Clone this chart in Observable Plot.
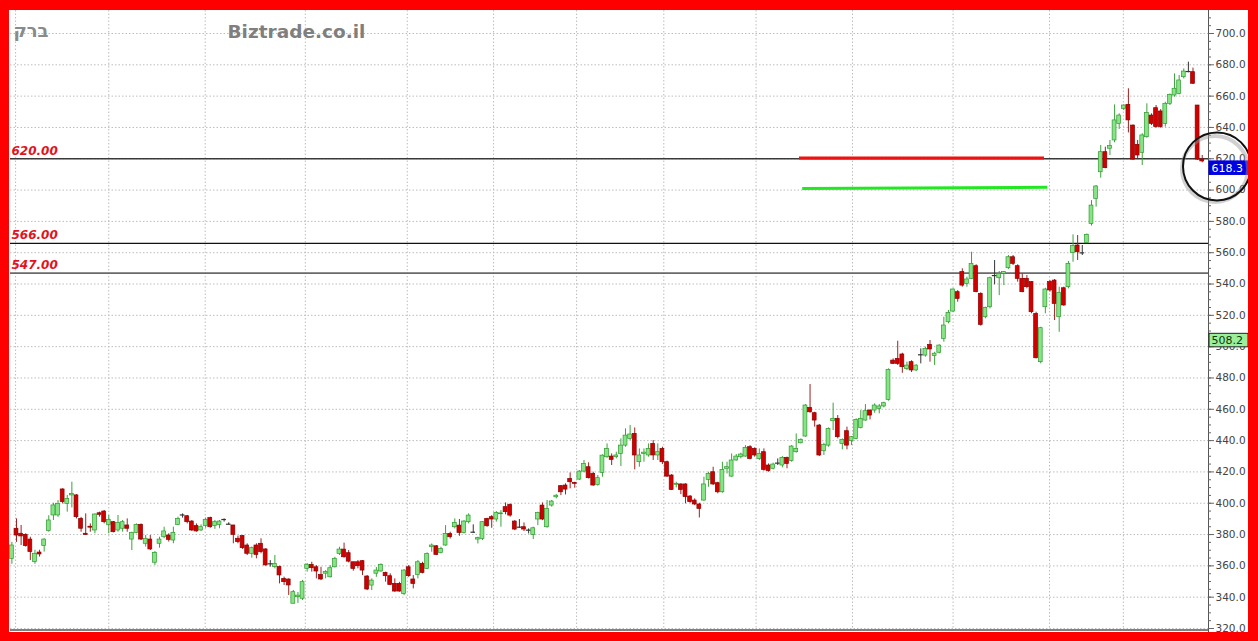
<!DOCTYPE html>
<html><head><meta charset="utf-8">
<script src="https://cdn.jsdelivr.net/npm/d3@7"></script>
<script src="https://cdn.jsdelivr.net/npm/@observablehq/plot@0.6"></script>
<style>
html,body{margin:0;padding:0;background:#ff0000;width:1258px;height:641px;overflow:hidden}
#wrap{position:absolute;left:9px;top:10px;width:1239px;height:622px;background:#fff;overflow:hidden}
</style></head>
<body><div id="wrap"></div>
<script>
// ---- data (daily candles) ----
const open  = [364.5,383.7,380.5,379.8,376.8,362.4,368.5,372.6,382.2,392.2,392.2,408.8,399.6,405,405,390,380.5,385,382.6,393.6,394.7,386.2,387.9,382.6,383.7,385.8,376.8,381.1,386.2,374.1,376.8,362,374.1,378.3,379.4,376.2,386.2,392.5,391.7,388.3,385.4,382.6,385.4,390.5,385.4,386.2,389.4,386.8,385.8,377.3,379,373,367.7,373,374.1,370.5,361.3,359.2,359.2,351.7,351.3,335.8,340,339,358.1,360.6,359.1,354.2,355,352.7,359.1,367.6,370.4,368.1,362.3,362.3,363,353.2,347.4,355,356.4,355.5,353.4,348.5,348.5,342.1,359.1,351.3,354.2,361.3,358.1,372,372.5,368.3,373,380.4,384.7,385.7,381,387.9,381.6,376.8,377.2,390,391.1,389.6,393,397.5,398.9,388.3,384.7,384.7,383,379.8,389.6,398.5,384.7,398.5,403.8,410.9,411.3,415.5,413,415.1,420.2,423,418.7,411.7,419.4,429.4,429.8,429.4,431.5,436.8,441.1,444.3,426.2,431.5,430.5,437.9,430.5,434.7,426.2,417.7,411.8,412,412,404.3,401.7,399.2,401.7,414.9,419.8,412.8,407,422,417,427.3,429.4,429.8,435.8,434.7,428.3,432.6,424.1,422,425.6,424.1,429,426.9,432.6,438.3,442.6,460.9,457.5,449.6,433.2,436.8,452.4,453.9,437.9,446,439.6,441.1,448.1,452.8,459.2,459.2,460.3,461.8,466,491.1,492.2,495,485.8,490.1,484.8,494.8,494.3,501.1,494,496.1,505,515.6,522.4,534.8,547.6,540.1,543.3,551.4,533.7,518.8,525.2,545.5,543.7,546.5,550.1,557.1,551.4,543.3,543.3,541.2,520.9,490.1,525.2,541.2,542.2,518.8,537.3,538,559.9,564.6,559.9,566.3,578.4,594.4,611.4,624.2,626.4,631.7,642.3,651.9,654.4,641.2,628.9,623.8,633.8,647.6,652.3,650.2,642.3,655.1,660.4,661.4,672.1,675.7,675.3,654,619.5];
const high  = [375,390,385.8,380.5,378.3,370,370,377.3,392,400,401.7,409.2,405,413.4,405.5,391,393.2,386.8,393.2,394.3,395.4,392.2,388.3,392.2,389,390,381.5,386.8,386.8,379.4,379.4,369.2,378.3,384.7,380.5,384.7,391.1,393.2,392.2,389,386.8,386.2,390.5,391.1,389,389,390,387.5,385.8,379,379.4,374.1,372,374.1,377.3,370.9,363.4,366.6,359.8,352.8,351.7,344.3,343,350.7,361.5,362.3,360.2,359.1,357,360.2,365.5,371.9,374.5,369.8,362.3,363.4,363.4,353.8,351.7,359,361.3,356,354.9,351.7,349.5,357.6,360.2,353.8,363.4,362.3,368.3,374,373,371.9,385.7,381.5,390,389.6,388.9,393.2,386.2,378.3,388.3,390.4,392.1,394.7,395.3,400.2,399.6,388.9,389.6,387.4,383.6,384.7,394.3,400.2,401.7,401.7,405.5,411.3,412.4,419.4,413.4,420.9,427.3,425.8,419.8,417.7,430.9,437.9,431.5,432.6,441.1,447.5,449.6,448.1,434.7,434.7,437.9,440,437.9,435.8,426.9,418.3,413.4,412.4,412.4,404.9,402.8,400,416.6,419.8,423,413.4,426.2,426.2,431.5,431.1,432,436.8,436.8,435.4,434.7,434.7,425.1,425.6,428.3,429.8,429.4,436.8,444.3,441.1,463,475.8,458.1,450.3,438.3,448.1,463.9,456,441.1,448.6,442.6,453.9,459.2,463,459.6,463.5,463.1,464.5,485.8,492.2,503.5,495.8,490.1,491,488.5,498.6,499.7,503.9,496.4,501.1,518.8,523.1,536.9,535.8,549.7,544.4,560.3,552.3,534.4,525.2,544.4,555,548,548,558.2,558.2,552.3,546.5,545.4,541.6,522,512.4,537.3,542.2,542.9,538,538,554.4,571.4,571,564.6,572,593.3,602.9,628.5,627.4,631.7,654.4,648.7,654.4,664.7,641.6,631.7,636,655.1,648.7,654,651.4,656.1,661.4,674.2,673.2,677.4,681.7,677.9,654,622.1];
const low   = [361,375,373,372,363.4,361,365.6,368.8,381.5,389,391,399.6,394.3,397,390,381.5,379.4,381.5,380.5,391.1,386.8,380.5,381.1,381.5,381.5,381.5,369.8,380.5,376.2,372,369.8,360.3,371.3,377.3,375.2,374.1,385.8,390.5,386.8,382,381.5,382,384,384,383.3,383.7,388,386,374.1,374.1,370.5,366.6,364.9,364.5,367.7,359.8,359.2,358.1,348.5,347.5,341.1,335.8,336,337.9,356,356,351.7,350.6,351.7,352.3,358.7,366.6,364.9,361.9,356.6,358.1,353.8,344.2,344.2,352.7,356,349.6,347.4,343.2,343.2,341,352.7,345.3,351.7,354.9,357.6,368.7,366.6,367.6,372.5,377.2,383.6,378.9,380.4,386.8,381,374,376.2,384.7,384,387.9,384.7,392.6,391.1,382.5,384,381.9,380.4,376.8,385.7,388.9,384,397.5,402.8,404.9,405.3,409.2,409.6,414.5,419.4,415.5,410.9,410.9,416.6,428.7,424.1,428.3,423.4,435.8,440,421.3,423,426.2,429.4,427.3,427.3,424.7,416.6,408.1,409.8,405.5,399.6,400,398.5,390.6,401.3,410.2,411.3,406,406.4,418.7,416.6,426.9,428.3,429.4,427.7,429.4,427.3,420.5,419.8,421.3,424.1,422.6,422,426.2,432,437.9,442.2,457.5,448.6,429.8,430.5,435.8,446.4,441.1,434.1,434.1,436.8,440.5,447.5,452.4,453.2,457.5,457.1,460.9,465.2,488.6,488,483,484.8,483.5,484,489,493.3,490.1,488,495.4,502.9,514.6,522,528.4,538,538,542.9,534.4,513.1,517.8,524.1,539.5,532.6,539,549.3,551.8,541.2,534.4,536.9,521,492.2,489,521,534.8,516.7,509.2,525.8,536.9,553.9,555,558.2,565.7,577,589.1,607.6,613.6,622.1,630.2,638.7,650.8,636.5,618.9,620,615.7,633.1,641.2,639.5,639.5,640.2,654,659.3,660.8,671,674.9,667.4,618.9,617.4];
const close = [373,379.4,378.8,372.6,368.8,367.7,367.3,376.8,389,398.6,399.6,400.7,402.8,406,391.1,383.7,379.8,384.4,392.8,392.6,387.9,389.4,381.5,387.3,387.9,383.7,381.1,386.2,376.8,377.3,370.5,368.3,376.8,382,376.6,381.1,390,392.5,387.9,382.6,382,384.7,389.4,384.7,387.9,388.3,389.6,386.6,379.8,375.2,371.3,367.7,371.3,367,368.8,360.3,361.3,361.3,353.9,349.6,347.5,343.2,341,349.6,360.7,358.5,356.4,351.3,356,358.5,364.5,370.4,365.5,362.7,358.1,359.8,357,344.9,350.6,357,360.6,353.4,347.8,343.6,343.6,357,353.4,348.5,362.3,355.5,367.6,373,367,370.8,380.4,378.3,387.4,381,388.3,392.1,381.5,377.7,387.9,385.3,389.6,393.8,393.5,394.3,392.1,383.2,384.7,383.2,382.8,384,393.8,389.6,396.4,401.1,404.8,407,408.7,413.4,412.4,420.2,425.1,416,411.3,416,430.4,434.7,427.7,430.5,436.8,443.2,443.9,430.5,430.5,432.3,434.7,430.5,432.6,426.2,417,408.5,412.4,408.5,403.9,400.7,399.2,396.4,412,418.7,412,407,421.3,423,427.3,429.8,431.1,435.4,428.3,430.5,431.5,421.3,420.5,424.7,425.6,429,425.1,436.2,434.7,440.5,462.4,458.1,452.8,430.5,437.2,447.5,453.9,442.2,440.5,436.8,442.2,453.2,453.9,458.8,456,462.4,461.8,463.9,485.2,489,489,486.9,487.9,484.8,487.9,494.8,498.6,498.2,495.5,500.7,513.5,521.6,536.5,530.5,539,542.9,552.9,534.8,513.9,524.8,543.7,545.4,546.5,547.6,557.1,552.9,543.3,534.8,538,522,492.6,511.8,536.5,535.9,527.3,534.4,526.3,552.9,564.2,560.3,559.9,571.4,590.1,602.3,624.2,614,628.1,644.5,647.6,654,644.5,619.5,622.1,634.9,649.3,642.3,640.2,640.2,655.1,660.8,664.7,670,675.7,675.7,667.9,619.5,618.3];

// month boundaries, as candle positions
const monthBreaks = [0.8, 21, 41.9, 63.6, 85.7, 104.4, 122.4, 141.3, 161.3, 182.2, 204, 224.9, 240.9];
// support / resistance levels
const levels = [620, 566, 547];
// drawn trend segments: [startCandle, endCandle, startPrice, endPrice]
const redSegment   = [170.6, 223.7, 620.5, 620.5];
const greenSegment = [171.3, 224.4, 601.0, 601.8];
// price tags on the axis
const priceTags = [618.3, 508.2];
const yTicks = d3.range(320, 701, 20);
const yMinor = d3.range(320, 711, 5);
const titleText = "ברק";
const watermark = "Biztrade.co.il";

// ---- build ----
const N = close.length;
const candles = open.map((o, i) => ({i, open: o, high: high[i], low: low[i], close: close[i]}));
const dir = d => Math.abs(d.close - d.open) < 0.3 ? 0 : (d.close > d.open ? 1 : -1);
const W = 1239, H = 622;
const unitPerPx = 380 / 595;
const x0 = -0.3, x1 = N + 0.36;
const idxPerPx = (x1 - x0) / (W - 1 - 40);
const yLo = 320 - (H - 618) * unitPerPx, yHi = 700 + 23 * unitPerPx;
const grid = {stroke: "#bdbdbd", strokeDasharray: "1.5,2", strokeWidth: 1};

const bodyFill = d => dir(d) > 0 ? "#86e486" : "#d00000";
const bodyStroke = d => dir(d) > 0 ? "#2e9a2e" : "#8a0000";
const wickColor = d => dir(d) > 0 ? "#3aa33a" : dir(d) < 0 ? "#a02020" : "#333";

const chart = Plot.plot({
  width: W, height: H,
  marginLeft: 1, marginRight: 40, marginTop: 0, marginBottom: 0,
  x: {type: "linear", domain: [x0, x1], axis: null},
  y: {domain: [yLo, yHi], axis: null},
  style: {fontFamily: "DejaVu Sans", fontSize: "10.5px", background: "white", overflow: "hidden"},
  marks: [
    Plot.ruleY(yTicks, grid),
    Plot.ruleX(monthBreaks, grid),
    // level lines
    Plot.ruleY([levels[0]], {stroke: "#3a3a3a", strokeWidth: 1.3}),
    Plot.ruleY([levels[1]], {stroke: "#111", strokeWidth: 1.2}),
    Plot.ruleY([levels[2]], {stroke: "#6a6a6a", strokeWidth: 1.8}),
    Plot.text(levels, {x: x0, y: d => d, text: d => d.toFixed(2), textAnchor: "start", lineAnchor: "bottom",
      dx: 1, dy: -4, fill: "#e3121c", fontStyle: "italic", fontWeight: "bold", fontSize: 12, fontFamily: "DejaVu Sans"}),
    // drawn segments
    Plot.link([redSegment], {x1: d => d[0], x2: d => d[1], y1: d => d[2], y2: d => d[3], stroke: "#ee1111", strokeWidth: 3}),
    Plot.link([greenSegment], {x1: d => d[0], x2: d => d[1], y1: d => d[2], y2: d => d[3], stroke: "#22e822", strokeWidth: 3}),
    // candles
    Plot.ruleX(candles, {x: "i", y1: "low", y2: "high", stroke: wickColor, strokeWidth: 1}),
    Plot.rect(candles.filter(d => dir(d) !== 0), {x1: d => d.i - 0.42, x2: d => d.i + 0.42, y1: "open", y2: "close",
      fill: bodyFill, stroke: bodyStroke, strokeWidth: 0.7}),
    Plot.ruleY(candles.filter(d => dir(d) === 0), {x1: d => d.i - 0.5, x2: d => d.i + 0.5, y: "close", stroke: "#333", strokeWidth: 1.2}),
    // bottom and right frame
    Plot.ruleY([320], {stroke: "#808080", strokeWidth: 2, dy: 1.5}),
    Plot.ruleX([x1], {stroke: "#555", strokeWidth: 1}),
    // axis
    Plot.ruleY(yMinor, {x1: x1, x2: x1 + 3 * idxPerPx, stroke: "#666"}),
    Plot.axisY(yTicks, {anchor: "right", tickSize: 5, tickPadding: 2, tickFormat: d => d.toFixed(1),
      fill: "#444", stroke: "#666", fontSize: 10.5}),
    // price tags
    Plot.rect(priceTags, {x1: x1 + 1 * idxPerPx, x2: x1 + 40 * idxPerPx, y1: d => d, y2: d => d - 13.5 * unitPerPx,
      fill: (d, i) => i === 0 ? "#0000e0" : "#9bee9b", stroke: (d, i) => i === 0 ? "#0000e0" : "#222", strokeWidth: 1}),
    Plot.text(priceTags, {x: x1 + 3 * idxPerPx, y: d => d - 6.8 * unitPerPx, text: d => d.toFixed(1), textAnchor: "start",
      fill: (d, i) => i === 0 ? "#ffffff" : "#0a3a0a", fontSize: 11}),
    // circle highlight around last price
    Plot.dot([candles[N - 1]], {x: d => d.i + 3.2, y: d => d.close - 3.2, r: 33, stroke: "#999", strokeWidth: 4,
      strokeOpacity: 0.45, dx: -2, dy: 2.5, fill: "none"}),
    Plot.dot([candles[N - 1]], {x: d => d.i + 3.2, y: d => d.close - 3.2, r: 34, stroke: "#111", strokeWidth: 2, fill: "none"}),
    // titles
    Plot.text([titleText], {frameAnchor: "top-left", dx: 3, dy: 14, text: d => d, textAnchor: "start",
      fill: "#8a8a8a", fontWeight: "bold", fontSize: 18, fontFamily: "DejaVu Sans"}),
    Plot.text([watermark], {frameAnchor: "top-left", dx: 217, dy: 14, text: d => d, textAnchor: "start",
      fill: "#7f7f7f", fontWeight: "bold", fontSize: 18.5, fontFamily: "DejaVu Sans"})
  ]
});
document.getElementById("wrap").appendChild(chart);
</script>
</body></html>
